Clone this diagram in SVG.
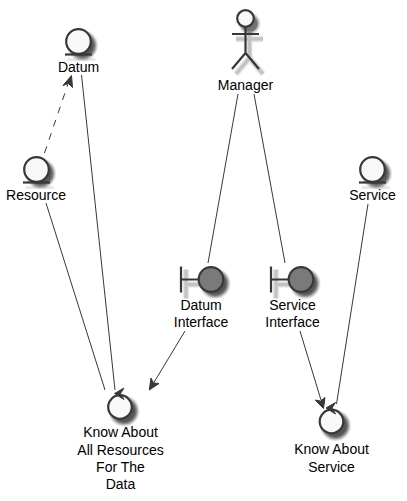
<svg xmlns="http://www.w3.org/2000/svg" width="407" height="501" viewBox="0 0 407 501">
<style>
text{font-family:"Liberation Sans",Arial,sans-serif;font-size:14px;fill:#000;text-anchor:middle}
.s{fill:#f8f8f8;stroke:#383838;stroke-width:2.200}
.b{fill:#7a7a7a;stroke:#383838;stroke-width:2.200}
.l{fill:none;stroke:#383838;stroke-width:2.200}
.c{fill:none;stroke:#383838;stroke-width:1}
.a{fill:#383838;stroke:#383838;stroke-width:1}
.d1{fill:#000;opacity:.1}
.d2{fill:#000;opacity:.14}
.d3{fill:#000;opacity:.2}
.d4{fill:#000;opacity:.26}
.w1{fill:none;stroke:#000;stroke-width:7;opacity:.06}
.w2{fill:none;stroke:#000;stroke-width:5;opacity:.09}
.w3{fill:none;stroke:#000;stroke-width:3;opacity:.1}
</style>
<defs>
<g id="sc"><circle class="d1" r="15.500"/><circle class="d2" r="14.500"/><circle class="d3" r="13.500"/><circle class="d4" r="12.500"/><circle class="d4" r="11"/></g>
<g id="entity"><use href="#sc" x="4" y="4"/><path class="w2" d="M-11 18H17" style="stroke-width:3"/><circle class="s" r="12.300"/><line class="l" x1="-13.500" y1="13" x2="13.500" y2="13"/></g>
<path id="bs" d="M-25 -10V19M-25 5H-9"/>
<g id="boundary"><use href="#bs" class="w1"/><use href="#bs" class="w2"/><use href="#bs" class="w3"/><use href="#sc" x="4" y="4"/><path class="l" d="M-30 -13V13M-30 0H-12"/><circle class="b" r="12.300"/></g>
<g id="control"><use href="#sc" x="4" y="4"/><circle class="s" r="11.800"/><path class="a" d="M-5.500 -13.500L4 -19L0.500 -13.500L4 -7.500Z"/></g>
<path id="ab" d="M245.500 27V53M232 34H259M245.500 53L232 69M245.500 53L259 69"/>
</defs>
<g id="connectors">
<line class="c" x1="44.500" y1="153" x2="68" y2="84" stroke-dasharray="7 7"/>
<path class="a" d="M71.500 75.500L72.500 87.500L68.500 83.500L63 85.500Z"/>
<line class="c" x1="81.500" y1="75" x2="115" y2="390"/>
<line class="c" x1="46" y1="203" x2="105" y2="390"/>
<line class="c" x1="238" y1="94" x2="208" y2="263"/>
<line class="c" x1="254" y1="94" x2="285" y2="263"/>
<line class="c" x1="185" y1="331" x2="153" y2="384"/>
<path class="a" d="M149.300 390L151 378L153.500 383L159 383.500Z"/>
<line class="c" x1="300" y1="331" x2="321" y2="400"/>
<path class="a" d="M323.500 408.500L315 400L320.500 401L325 397.500Z"/>
<line class="c" x1="368" y1="204" x2="336.500" y2="404"/>
</g>
<g id="datum"><use href="#entity" x="78.500" y="41.500"/><text x="78.500" y="72">Datum</text></g>
<g id="resource"><use href="#entity" x="36.500" y="169.500"/><text x="36" y="200">Resource</text></g>
<g id="service"><use href="#entity" x="372.500" y="169.500"/><text x="372.500" y="200">Service</text></g>
<g id="manager">
<g transform="translate(4 5)"><use href="#ab" class="w1"/><use href="#ab" class="w2"/><use href="#ab" class="w3"/><circle class="d1" cx="245.500" cy="18.500" r="11"/><circle class="d2" cx="245.500" cy="18.500" r="10"/><circle class="d3" cx="245.500" cy="18.500" r="9"/><circle class="d4" cx="245.500" cy="18.500" r="8"/></g>
<circle class="s" cx="245.500" cy="18.500" r="8.300"/>
<path class="l" d="M245.500 26.500V53M232 34H259M245.500 53L232 69M245.500 53L259 69"/>
<text x="245.500" y="90">Manager</text>
</g>
<g id="datum-interface"><use href="#boundary" x="211" y="279.500"/><text x="201" y="310">Datum</text><text x="201" y="327">Interface</text></g>
<g id="service-interface"><use href="#boundary" x="301" y="279.500"/><text x="292.500" y="310">Service</text><text x="292.500" y="327">Interface</text></g>
<g id="know-resources"><use href="#control" x="120" y="407"/><text x="120.500" y="437">Know About</text><text x="120.500" y="455">All Resources</text><text x="120.500" y="472">For The</text><text x="120.500" y="489">Data</text></g>
<g id="know-service"><use href="#control" x="331.500" y="421.500"/><text x="331.500" y="454">Know About</text><text x="331.500" y="472">Service</text></g>
</svg>
